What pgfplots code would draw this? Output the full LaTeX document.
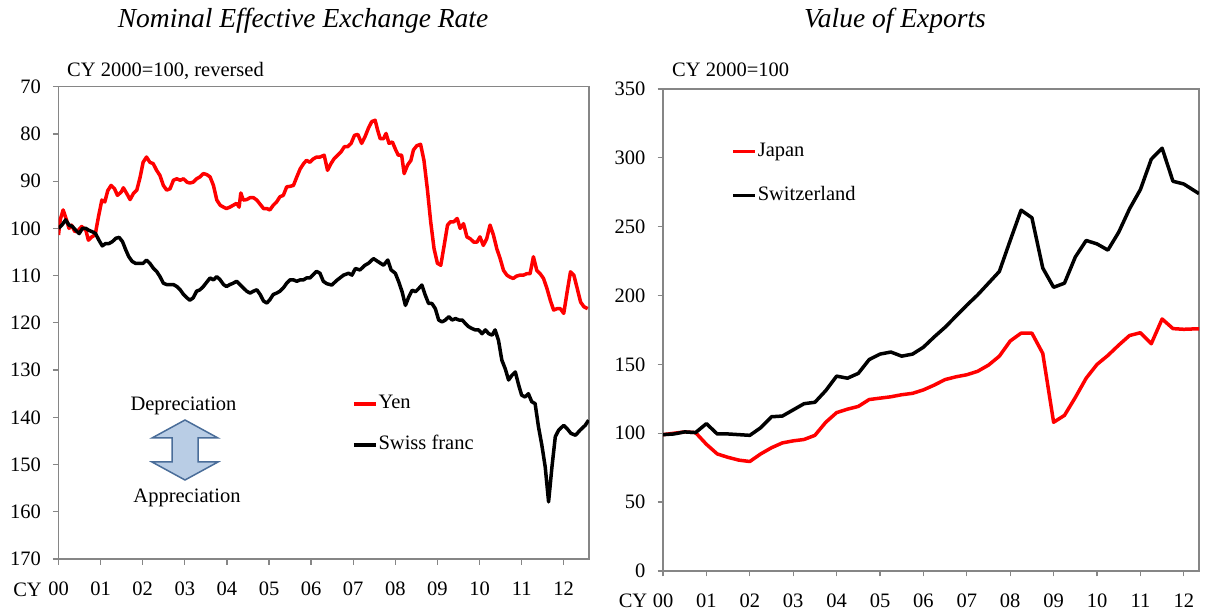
\documentclass[border=0pt]{standalone}
\usepackage{fontspec}
\setmainfont{Liberation Serif}
\usepackage{pgfplots}
\pgfplotsset{compat=1.18}
\definecolor{axisgray}{HTML}{868686}
\definecolor{arrowfill}{HTML}{B9CDE5}
\definecolor{arrowedge}{HTML}{4A6D99}
\newcommand\f{\fontsize{20.5}{24}\selectfont}
\begin{document}
\f
\begin{tikzpicture}
\useasboundingbox (0pt,0pt) rectangle (1208pt,612pt);
\pgfplotsset{
  every axis/.append style={
    scale only axis,
    axis line style={draw=axisgray, line width=1.3pt},
    every tick/.style={draw=axisgray, line width=1.3pt},
    tick align=outside,
    major tick length=5.5pt,
    xtick pos=bottom, ytick pos=left,
    /pgf/number format/assume math mode=true,
    tick label style={font=\f},
    yticklabel style={xshift=-5pt},
    xticklabel style={yshift=-16pt, inner ysep=1pt},
    legend style={draw=none, fill=none, inner sep=0pt, font=\f,
      nodes={inner xsep=1pt, inner ysep=0pt, text height=14pt, text depth=4pt}},
    legend cell align=left,
    legend image code/.code={\draw[#1] (0pt,0pt) -- (22pt,0pt);},
  }
}
% ---------------- left panel ----------------
\begin{axis}[
  at={(323.75pt,289.15pt)}, anchor=center,
  width=530.5pt, height=472.3pt,
  xmin=0, xmax=12.6, ymin=70, ymax=170, y dir=reverse,
  ytick={70,80,...,170},
  xtick={0,1,...,12},
  xticklabels={00,01,02,03,04,05,06,07,08,09,10,11,12},
  legend style={at={(axis description cs:0.553,0.285)}, anchor=west, row sep=23pt},
]
\addplot[red, line width=3.5pt, line join=round] coordinates {
(0.00,101.4)(0.04,98.2)(0.11,96.1)(0.19,98.2)(0.25,100)(0.31,99.3)(0.39,100.7)(0.47,100.4)
(0.55,99.6)(0.65,100.4)(0.71,102.5)(0.79,101.8)(0.87,101.4)(0.95,97.5)(1.03,94)(1.10,94.4)
(1.17,92)(1.25,90.9)(1.33,91.6)(1.40,93)(1.49,92.3)(1.54,91.4)(1.62,92.6)(1.70,93.9)
(1.78,92.6)(1.86,91.9)(1.94,89.1)(2.01,86)(2.09,84.9)(2.17,86)(2.25,86.3)(2.33,87.7)
(2.41,88.8)(2.49,90.9)(2.57,91.9)(2.65,91.6)(2.73,89.8)(2.81,89.5)(2.89,89.8)(2.97,89.5)
(3.05,90.2)(3.12,90.4)(3.20,90.2)(3.28,89.5)(3.36,89.1)(3.44,88.4)(3.52,88.6)(3.60,89.1)
(3.68,90.9)(3.76,94)(3.84,95.1)(3.92,95.5)(3.99,95.8)(4.07,95.5)(4.15,95.1)(4.23,94.7)
(4.29,95.5)(4.33,92.5)(4.39,94)(4.47,93.9)(4.55,93.5)(4.63,93.5)(4.71,94)(4.79,94.9)
(4.87,95.8)(4.95,95.8)(5.02,96.1)(5.10,95.1)(5.18,94.4)(5.26,93.3)(5.34,93)(5.42,91.2)
(5.50,91.1)(5.58,90.9)(5.66,89.1)(5.74,87.4)(5.82,86.3)(5.89,85.6)(5.97,86)(6.05,85.3)
(6.13,84.9)(6.21,84.9)(6.31,84.5)(6.39,87.7)(6.47,86.3)(6.55,85.2)(6.63,84.5)(6.71,83.8)
(6.79,82.7)(6.87,82.7)(6.95,82)(7.03,80.3)(7.11,80.1)(7.20,82)(7.28,80.6)(7.36,78.8)
(7.44,77.4)(7.52,77.1)(7.58,79.2)(7.64,81)(7.72,81)(7.78,79.9)(7.85,82)(7.93,81.7)
(8.01,83.4)(8.07,84.5)(8.15,84.5)(8.21,88.4)(8.29,86.6)(8.37,85.6)(8.43,83.4)(8.51,82.5)
(8.60,82.2)(8.68,85.6)(8.76,91.6)(8.84,98.6)(8.92,104.3)(9.00,107.4)(9.08,107.8)(9.16,103.6)
(9.24,99.3)(9.31,98.6)(9.39,98.6)(9.47,97.9)(9.54,100)(9.62,99)(9.70,101.8)(9.78,102.2)
(9.86,102.9)(9.94,102.9)(10.01,101.8)(10.09,103.6)(10.17,102.2)(10.25,99.3)(10.33,101.4)(10.41,104.3)
(10.49,106.4)(10.57,108.9)(10.65,109.9)(10.72,110.3)(10.80,110.6)(10.88,110.1)(10.96,109.9)(11.04,109.9)
(11.12,109.6)(11.20,109.6)(11.28,106)(11.36,108.9)(11.44,109.6)(11.52,110.6)(11.60,112.7)(11.68,115.2)
(11.76,117.3)(11.84,117)(11.92,117)(12.00,118)(12.08,113.5)(12.16,109.2)(12.24,109.9)(12.32,112.7)
(12.40,115.6)(12.48,116.6)(12.57,117)
};
\addlegendentry{Yen}
\addplot[black, line width=3.5pt, line join=round] coordinates {
(0.00,100)(0.08,99.3)(0.17,98.2)(0.25,99.3)(0.33,99.6)(0.41,100.4)(0.49,101.1)(0.57,100)
(0.65,100)(0.72,100.4)(0.80,100.7)(0.88,101.1)(0.96,102.5)(1.04,103.7)(1.12,103.2)(1.20,103.2)
(1.28,102.8)(1.36,102.1)(1.44,101.9)(1.52,102.8)(1.60,104.6)(1.67,106)(1.75,107)(1.83,107.4)
(1.94,107.4)(2.01,107.4)(2.09,106.7)(2.17,107.4)(2.25,108.4)(2.33,109.1)(2.41,110.2)(2.49,111.6)
(2.57,111.9)(2.65,111.9)(2.73,111.9)(2.81,112.3)(2.89,113)(2.97,114)(3.05,114.7)(3.12,115.2)
(3.20,114.7)(3.28,113.3)(3.36,113)(3.44,112.3)(3.52,111.4)(3.60,110.5)(3.68,110.9)(3.76,110.2)
(3.84,110.9)(3.92,111.9)(3.99,112.3)(4.07,111.9)(4.15,111.6)(4.23,111.2)(4.31,111.9)(4.39,112.6)
(4.47,113.3)(4.55,113.7)(4.63,113.3)(4.71,113)(4.79,114)(4.87,115.4)(4.95,115.8)(5.02,115.1)
(5.10,114)(5.18,113.7)(5.26,113.3)(5.34,112.6)(5.42,111.6)(5.50,110.9)(5.58,110.9)(5.66,111.2)
(5.74,110.9)(5.82,110.9)(5.89,110.5)(5.97,110.5)(6.05,109.8)(6.13,109.1)(6.21,109.5)(6.29,111.2)
(6.37,111.7)(6.49,112)(6.61,111)(6.77,109.9)(6.89,109.5)(6.97,109.9)(7.05,108.5)(7.16,108.8)
(7.28,107.8)(7.36,107.4)(7.48,106.4)(7.60,107.1)(7.72,107.8)(7.82,106.7)(7.90,108.8)(8.00,109.5)
(8.08,111.3)(8.16,113.4)(8.24,116.3)(8.32,114.5)(8.40,113.1)(8.48,113.4)(8.56,112.7)(8.63,112)
(8.71,114.1)(8.79,115.9)(8.87,115.9)(8.95,117)(9.03,119.4)(9.11,119.8)(9.19,119.4)(9.27,118.7)
(9.35,119.4)(9.43,119.1)(9.51,119.4)(9.59,119.4)(9.66,120.1)(9.74,120.8)(9.82,121.2)(9.90,121.5)
(9.98,121.5)(10.06,122.3)(10.14,121.5)(10.22,122.3)(10.30,122.6)(10.37,121.5)(10.45,123.7)(10.53,127.9)
(10.61,129.7)(10.69,132.1)(10.77,131.1)(10.85,130.4)(10.93,133.2)(11.00,135.3)(11.08,135.7)(11.16,135)
(11.24,136.7)(11.32,137.1)(11.40,142)(11.48,145.9)(11.56,150.5)(11.64,157.9)(11.72,150.5)(11.80,144.1)
(11.88,142.7)(12.00,141.7)(12.08,142.4)(12.17,143.4)(12.28,143.8)(12.39,142.7)(12.51,141.7)(12.59,140.6)
};
\addlegendentry{Swiss franc}
\end{axis}
% ---------------- right panel ----------------
\begin{axis}[
  at={(931pt,282pt)}, anchor=center,
  width=536pt, height=482pt,
  xmin=0, xmax=12.35, ymin=0, ymax=350,
  ytick={0,50,...,350},
  xtick={0,1,...,12},
  xticklabels={00,01,02,03,04,05,06,07,08,09,10,11,12},
  legend style={at={(axis description cs:0.127,0.825)}, anchor=west, row sep=26pt},
]
\addplot[red, line width=3.5pt, line join=round] coordinates {
(0,99)(0.25,100)(0.5,101)(0.75,100.5)(1.0,92)(1.25,85)(1.5,82.5)(1.75,80.5)
(2.0,79.5)(2.25,85)(2.5,89.5)(2.75,93)(3.0,94.5)(3.25,95.5)(3.5,98.5)(3.75,108)
(4.0,115)(4.25,117.5)(4.5,119.5)(4.75,124.5)(5.0,125.5)(5.25,126.5)(5.5,128)(5.75,129)
(6.0,131.5)(6.25,135)(6.5,139)(6.75,141)(7.0,142.5)(7.25,145)(7.5,149.5)(7.75,156)
(8.0,167)(8.25,172.7)(8.5,172.7)(8.75,158)(9.0,108)(9.25,113)(9.5,126)(9.75,140)
(10.0,150)(10.25,156.5)(10.5,164)(10.75,171)(11.0,173)(11.25,165)(11.5,183)(11.75,176)
(12.0,175.5)(12.25,175.8)(12.35,175.8)
};
\addlegendentry{Japan}
\addplot[black, line width=3.5pt, line join=round] coordinates {
(0,99)(0.25,99.5)(0.5,101)(0.75,100.5)(1.0,107)(1.25,99.5)(1.5,99.5)(1.75,99)
(2.0,98.5)(2.25,104)(2.5,112)(2.75,112.5)(3.0,117)(3.25,121.5)(3.5,122.5)(3.75,131)
(4.0,141.5)(4.25,140)(4.5,143.5)(4.75,153.5)(5.0,157.5)(5.25,159)(5.5,156)(5.75,157.5)
(6.0,162.5)(6.25,170)(6.5,177)(6.75,185)(7.0,193)(7.25,200.5)(7.5,209)(7.75,217.5)
(8.0,240)(8.25,262)(8.5,256.5)(8.75,220)(9.0,206)(9.25,209)(9.5,228)(9.75,240)
(10.0,237.5)(10.25,233)(10.5,246)(10.75,263)(11.0,277)(11.25,299)(11.5,307)(11.75,283)
(12.0,281)(12.25,276)(12.35,274)
};
\addlegendentry{Switzerland}
\end{axis}
% ---------------- annotations ----------------
\node[font={\fontsize{27.5}{32}\selectfont\itshape}, anchor=base] at (303pt,584pt) {Nominal Effective Exchange Rate};
\node[font={\fontsize{27.5}{32}\selectfont\itshape}, anchor=base] at (895pt,584pt) {Value of Exports};
\node[font=\f, anchor=base west, inner sep=0pt] at (67pt,535pt) {CY 2000=100, reversed};
\node[font=\f, anchor=base west, inner sep=0pt] at (672pt,535pt) {CY 2000=100};
\node[font=\f, anchor=base, inner sep=0pt] at (27.5pt,15pt) {CY};
\node[font=\f, anchor=base, inner sep=0pt] at (633pt,4pt) {CY};
\node[font=\f, anchor=base, inner sep=0pt] at (183.5pt,201.3pt) {Depreciation};
\node[font=\f, anchor=base, inner sep=0pt] at (187pt,109pt) {Appreciation};
\draw[fill=arrowfill, draw=arrowedge, line width=1.5pt, line join=miter]
  (185pt,192pt) -- (218pt,174pt) -- (198pt,174pt) -- (198pt,150pt) -- (218pt,150pt) -- (185pt,132pt)
  -- (152pt,150pt) -- (172pt,150pt) -- (172pt,174pt) -- (152pt,174pt) -- cycle;
\end{tikzpicture}
\end{document}
